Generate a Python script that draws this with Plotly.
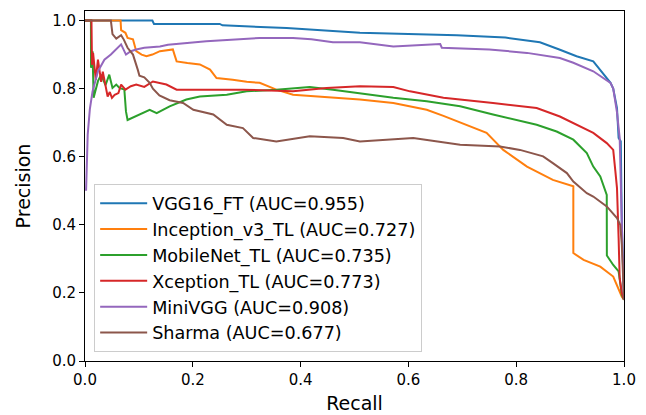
import plotly.graph_objects as go

# ---- data ----
names = ["VGG16_FT", "Inception_v3_TL", "MobileNet_TL", "Xception_TL", "MiniVGG", "Sharma"]
aucs = ["0.955", "0.727", "0.735", "0.773", "0.908", "0.677"]
colors = ["#1f77b4", "#ff7f0e", "#2ca02c", "#d62728", "#9467bd", "#8c564b"]

vgg16_recall = [0.0, 0.125, 0.128, 0.25, 0.255, 0.374, 0.51, 0.69, 0.78, 0.844, 0.88, 0.912,
                0.943, 0.968, 0.975, 0.98, 0.987, 0.99, 0.994, 0.996, 1.0]
vgg16_precision = [1.0, 1.0, 0.99, 0.99, 0.986, 0.978, 0.964, 0.957, 0.95, 0.936, 0.915, 0.895,
                   0.88, 0.831, 0.817, 0.80, 0.743, 0.655, 0.645, 0.40, 0.18]

incep_recall = [0.0, 0.066, 0.067, 0.075, 0.079, 0.089, 0.095, 0.105, 0.114, 0.125, 0.139, 0.163,
                0.166, 0.17, 0.19, 0.213, 0.232, 0.244, 0.274, 0.30, 0.324, 0.355, 0.386, 0.45,
                0.51, 0.572, 0.634, 0.665, 0.696, 0.72, 0.745, 0.776, 0.82, 0.868, 0.9, 0.906,
                0.906, 0.925, 0.956, 0.98, 0.996, 1.0]
incep_precision = [1.0, 1.0, 0.972, 0.964, 0.949, 0.945, 0.91, 0.9, 0.895, 0.9, 0.91, 0.915,
                   0.9, 0.88, 0.875, 0.871, 0.856, 0.831, 0.826, 0.82, 0.817, 0.797, 0.782, 0.775,
                   0.768, 0.758, 0.738, 0.72, 0.70, 0.685, 0.67, 0.62, 0.571, 0.532, 0.515, 0.513,
                   0.317, 0.297, 0.277, 0.248, 0.189, 0.18]

mobile_recall = [0.0, 0.011, 0.0112, 0.014, 0.016, 0.024, 0.03, 0.038, 0.045, 0.051, 0.058, 0.064,
                 0.073, 0.076, 0.079, 0.095, 0.12, 0.133, 0.157, 0.188, 0.213, 0.263, 0.3, 0.355,
                 0.417, 0.46, 0.51, 0.572, 0.634, 0.696, 0.757, 0.838, 0.875, 0.906, 0.931, 0.943,
                 0.956, 0.962, 0.968, 0.9682, 0.98, 0.99, 0.993, 0.996, 1.0]
mobile_precision = [1.0, 1.0, 0.861, 0.91, 0.773, 0.822, 0.841, 0.81, 0.841, 0.802, 0.812, 0.802,
                    0.797, 0.733, 0.708, 0.719, 0.738, 0.728, 0.748, 0.768, 0.777, 0.782, 0.792, 0.797,
                    0.805, 0.797, 0.787, 0.773, 0.763, 0.748, 0.724, 0.694, 0.674, 0.65, 0.611, 0.571,
                    0.542, 0.513, 0.488, 0.31, 0.282, 0.263, 0.233, 0.194, 0.18]

xcep_recall = [0.0, 0.012, 0.013, 0.015, 0.02, 0.024, 0.03, 0.033, 0.042, 0.046, 0.05, 0.055,
               0.062, 0.067, 0.075, 0.085, 0.095, 0.11, 0.126, 0.151, 0.17, 0.232, 0.293, 0.386,
               0.448, 0.51, 0.572, 0.603, 0.665, 0.757, 0.838, 0.881, 0.912, 0.943, 0.968, 0.977,
               0.98, 0.984, 0.987, 0.99, 0.992, 0.996, 1.0]
xcep_precision = [1.0, 1.0, 0.87, 0.905, 0.826, 0.885, 0.82, 0.85, 0.777, 0.79, 0.773, 0.782,
                  0.787, 0.812, 0.797, 0.807, 0.812, 0.805, 0.821, 0.812, 0.797, 0.797, 0.797, 0.792,
                  0.802, 0.807, 0.805, 0.792, 0.773, 0.758, 0.743, 0.718, 0.694, 0.67, 0.64, 0.626,
                  0.62, 0.557, 0.508, 0.361, 0.243, 0.20, 0.18]

mini_recall = [0.002, 0.004, 0.005, 0.009, 0.014, 0.024, 0.036, 0.048, 0.064, 0.067, 0.076, 0.085,
               0.095, 0.11, 0.139, 0.154, 0.225, 0.324, 0.386, 0.42, 0.46, 0.51, 0.572, 0.659,
               0.662, 0.75, 0.82, 0.881, 0.906, 0.943, 0.975, 0.98, 0.987, 0.992, 0.996, 1.0]
mini_precision = [0.50, 0.60, 0.665, 0.74, 0.792, 0.851, 0.885, 0.90, 0.925, 0.93, 0.90, 0.91,
                  0.915, 0.92, 0.924, 0.929, 0.939, 0.949, 0.949, 0.945, 0.936, 0.936, 0.924, 0.931,
                  0.92, 0.915, 0.905, 0.89, 0.876, 0.851, 0.817, 0.80, 0.73, 0.655, 0.40, 0.18]

sharma_recall = [0.0, 0.048, 0.051, 0.058, 0.067, 0.072, 0.079, 0.089, 0.098, 0.101, 0.11, 0.12,
                 0.126, 0.138, 0.157, 0.182, 0.201, 0.238, 0.263, 0.293, 0.312, 0.355, 0.417, 0.479,
                 0.51, 0.609, 0.696, 0.77, 0.807, 0.85, 0.868, 0.894, 0.906, 0.931, 0.943, 0.968,
                 0.987, 0.993, 0.996, 1.0]
sharma_precision = [1.0, 1.0, 0.96, 0.947, 0.957, 0.944, 0.92, 0.9, 0.855, 0.838, 0.833, 0.817,
                    0.80, 0.78, 0.766, 0.758, 0.738, 0.724, 0.694, 0.684, 0.655, 0.645, 0.66, 0.655,
                    0.645, 0.655, 0.635, 0.63, 0.62, 0.601, 0.581, 0.552, 0.527, 0.493, 0.483, 0.454,
                    0.42, 0.40, 0.341, 0.18]

recalls = [vgg16_recall, incep_recall, mobile_recall, xcep_recall, mini_recall, sharma_recall]
precisions = [vgg16_precision, incep_precision, mobile_precision, xcep_precision, mini_precision,
              sharma_precision]

x_ticks = [0.0, 0.2, 0.4, 0.6, 0.8, 1.0]
y_ticks = [0.0, 0.2, 0.4, 0.6, 0.8, 1.0]

FONT = "DejaVu Sans"

fig = go.Figure()
for name, auc, col, r, p in zip(names, aucs, colors, recalls, precisions):
    fig.add_trace(go.Scatter(
        x=r, y=p, mode="lines", name=f"{name} (AUC={auc})",
        line=dict(color=col, width=2),
    ))

axis_common = dict(
    showline=True, linecolor="black", linewidth=1, mirror=True,
    ticks="outside", ticklen=5, tickwidth=1, tickcolor="black",
    showgrid=False, zeroline=False, automargin=False,
    tickfont=dict(family=FONT, size=15, color="black"),
    tickformat=".1f",
)

fig.update_layout(
    width=646, height=415,
    margin=dict(l=85, r=22, t=11, b=54),
    paper_bgcolor="white", plot_bgcolor="white",
    font=dict(family=FONT, color="black"),
    xaxis=dict(range=[0, 1.0], tickvals=x_ticks,
               title=dict(text="Recall", font=dict(family=FONT, size=19), standoff=8),
               **axis_common),
    yaxis=dict(range=[0, 1.028], tickvals=y_ticks,
               title=dict(text="Precision", font=dict(family=FONT, size=19), standoff=16),
               **axis_common),
    legend=dict(
        x=0.017, y=0.505, xanchor="left", yanchor="top",
        bgcolor="rgba(255,255,255,0.8)", bordercolor="#cccccc", borderwidth=1,
        font=dict(family=FONT, size=17.6, color="black"),
        tracegroupgap=0, itemwidth=47,
    ),
    showlegend=True,
)

fig.write_html("out.html")
